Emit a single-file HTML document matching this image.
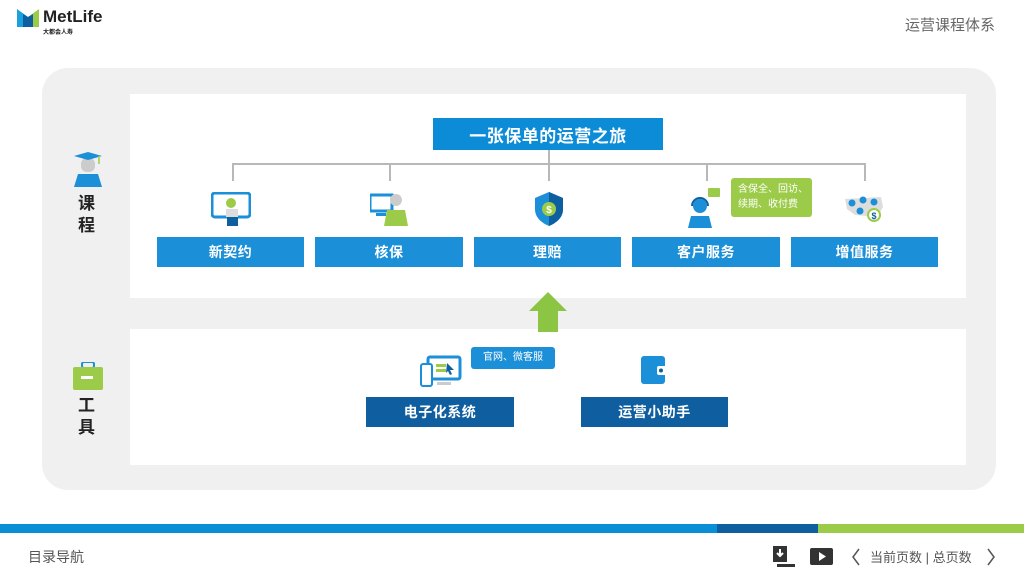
<!DOCTYPE html>
<html><head><meta charset="utf-8"><style>
*{margin:0;padding:0;box-sizing:border-box}
body{width:1024px;height:576px;position:relative;background:#fff;font-family:"Liberation Sans","Noto Sans CJK SC",sans-serif;overflow:hidden}
.a{position:absolute}
.b{position:absolute;background:#1b8fd8;color:#fff;font-weight:bold;font-size:14px;display:flex;align-items:center;justify-content:center;letter-spacing:0.5px}
.d{background:#0f5fa0}
.l{position:absolute;background:#b8b8b8}
</style></head><body>
<svg class="a" style="left:17px;top:9px" width="22" height="18"><polygon points="0,0 11,8 11,18 0,18" fill="#1aa0dc"/><polygon points="22,0 11,8 11,18 22,18" fill="#9ccb4a"/><polygon points="6,5 11,8 16,5 16,18 6,18" fill="#0e5fa0"/></svg>
<div class="a" style="left:43px;top:7px;font-size:17px;font-weight:bold;color:#222">MetLife</div>
<div class="a" style="left:43px;top:27px;font-size:6px;font-weight:bold;color:#222">大都会人寿</div>
<div class="a" style="left:905px;top:14px;font-size:15px;color:#666">运营课程体系</div>
<div class="a" style="left:42px;top:68px;width:954px;height:422px;background:#f0f0f0;border-radius:26px"></div>
<div class="a" style="left:130px;top:94px;width:836px;height:204px;background:#fff"></div>
<div class="a" style="left:130px;top:329px;width:836px;height:136px;background:#fff"></div>
<svg class="a" style="left:72px;top:152px" width="32" height="36"><rect x="9" y="6" width="14" height="14" rx="6" fill="#ccc"/><polygon points="2,4 16,0 30,4 16,8" fill="#1b8fd8"/><line x1="27" y1="4" x2="27" y2="12" stroke="#9ccb4a" stroke-width="1.5"/><polygon points="6,22 26,22 30,35 2,35" fill="#1b8fd8"/></svg>
<div class="a" style="left:78px;top:193px;font-size:17px;font-weight:bold;color:#222;line-height:22px;width:20px">课<br>程</div>
<svg class="a" style="left:72px;top:362px" width="32" height="28"><rect x="10" y="0" width="12" height="6" rx="2" fill="none" stroke="#1b8fd8" stroke-width="2"/><rect x="1" y="5" width="30" height="23" rx="2" fill="#9ccb4a"/><rect x="9" y="14" width="12" height="3" fill="#fff"/></svg>
<div class="a" style="left:78px;top:395px;font-size:17px;font-weight:bold;color:#222;line-height:22px;width:20px">工<br>具</div>
<div class="b" style="left:433px;top:118px;width:230px;height:32px;font-size:17px;background:#0c8cd6">一张保单的运营之旅</div>
<div class="l" style="left:548px;top:150px;width:2px;height:14px"></div>
<div class="l" style="left:232px;top:163px;width:634px;height:2px"></div>
<div class="l" style="left:232px;top:163px;width:2px;height:18px"></div>
<div class="l" style="left:389px;top:163px;width:2px;height:18px"></div>
<div class="l" style="left:548px;top:163px;width:2px;height:18px"></div>
<div class="l" style="left:706px;top:163px;width:2px;height:18px"></div>
<div class="l" style="left:864px;top:163px;width:2px;height:18px"></div>
<svg class="a" style="left:211px;top:192px" width="40" height="35"><rect x="1" y="1" width="38" height="24" rx="3" fill="#fff" stroke="#1b8fd8" stroke-width="3"/><circle cx="20" cy="11" r="5" fill="#9ccb4a"/><rect x="15" y="17" width="12" height="8" fill="#ddd"/><rect x="16" y="25" width="11" height="9" fill="#0e5fa0"/></svg>
<svg class="a" style="left:370px;top:192px" width="40" height="34"><rect x="0" y="3" width="22" height="16" fill="#fff" stroke="#1b8fd8" stroke-width="3"/><rect x="6" y="21" width="10" height="3" fill="#1b8fd8"/><circle cx="26" cy="8" r="6" fill="#ccc"/><path d="M14 34 L17 18 L35 18 L38 34Z" fill="#9ccb4a"/></svg>
<svg class="a" style="left:534px;top:192px" width="30" height="34"><path d="M15 0 L29 6 L29 17 C29 26 22 31 15 34 C8 31 1 26 1 17 L1 6Z" fill="#1b8fd8"/><path d="M15 0 L29 6 L29 17 C29 26 22 31 15 34Z" fill="#0e5fa0"/><circle cx="15" cy="17" r="7" fill="#9ccb4a"/><text x="15" y="21" font-size="10" fill="#fff" text-anchor="middle" font-weight="bold">$</text></svg>
<svg class="a" style="left:686px;top:186px" width="40" height="42"><rect x="22" y="2" width="12" height="9" rx="1" fill="#9ccb4a"/><circle cx="14" cy="20" r="7" fill="#1b8fd8"/><path d="M6 20 A8 8 0 0 1 22 20" fill="none" stroke="#0e5fa0" stroke-width="2"/><path d="M2 42 L5 30 L23 30 L26 42Z" fill="#1b8fd8"/></svg>
<div class="a" style="left:731px;top:178px;width:81px;height:39px;background:#9ccb4a;border-radius:3px;color:#fff;font-size:10px;line-height:15px;padding:4px 0 0 7px">含保全、回访、<br>续期、收付费</div>
<svg class="a" style="left:841px;top:193px" width="46" height="30"><path d="M4 6 L40 4 L42 14 L36 24 L14 22 L6 16Z" fill="#ddd"/><circle cx="11" cy="10" r="3.5" fill="#1b8fd8"/><circle cx="22" cy="7" r="3.5" fill="#1b8fd8"/><circle cx="33" cy="9" r="3.5" fill="#1b8fd8"/><circle cx="19" cy="18" r="3.5" fill="#1b8fd8"/><circle cx="33" cy="22" r="6" fill="#fff" stroke="#9ccb4a" stroke-width="2"/><text x="33" y="26" font-size="9" fill="#0e5fa0" text-anchor="middle" font-weight="bold">$</text></svg>
<div class="b" style="left:157px;top:237px;width:147px;height:30px">新契约</div>
<div class="b" style="left:315px;top:237px;width:148px;height:30px">核保</div>
<div class="b" style="left:474px;top:237px;width:147px;height:30px">理赔</div>
<div class="b" style="left:632px;top:237px;width:148px;height:30px">客户服务</div>
<div class="b" style="left:791px;top:237px;width:147px;height:30px">增值服务</div>
<svg class="a" style="left:528px;top:292px" width="40" height="40"><polygon points="20,0 39,19 30,19 30,40 10,40 10,19 1,19" fill="#8cc443"/></svg>
<svg class="a" style="left:420px;top:355px" width="42" height="32"><rect x="8" y="2" width="32" height="22" rx="2" fill="#fff" stroke="#1b8fd8" stroke-width="3"/><rect x="16" y="9" width="10" height="3" fill="#9ccb4a"/><rect x="16" y="14" width="10" height="3" fill="#9ccb4a"/><polygon points="27,8 34,15 30,15 32,19 30,20 28,16 26,18" fill="#0e5fa0"/><rect x="1" y="9" width="11" height="22" rx="2" fill="#fff" stroke="#1b8fd8" stroke-width="2"/><rect x="17" y="27" width="14" height="3" fill="#ccc"/></svg>
<div class="a" style="left:471px;top:347px;width:84px;height:22px;background:#1b8fd8;border-radius:3px;color:#fff;font-size:10px;line-height:22px;padding-left:12px">官网、微客服</div>
<svg class="a" style="left:641px;top:356px" width="28" height="28"><rect x="0" y="0" width="24" height="28" rx="3" fill="#1b8fd8"/><rect x="16" y="10" width="12" height="9" rx="2" fill="#fff"/><circle cx="20" cy="14.5" r="2" fill="#0e5fa0"/></svg>
<div class="b d" style="left:366px;top:397px;width:148px;height:30px">电子化系统</div>
<div class="b d" style="left:581px;top:397px;width:147px;height:30px">运营小助手</div>
<div class="a" style="left:0;top:524px;width:717px;height:9px;background:#0a8fd6"></div>
<div class="a" style="left:717px;top:524px;width:101px;height:9px;background:#0e5fa0"></div>
<div class="a" style="left:818px;top:524px;width:206px;height:9px;background:#9ccb4a"></div>
<div class="a" style="left:28px;top:547px;font-size:14px;color:#555">目录导航</div>
<svg class="a" style="left:773px;top:546px" width="24" height="22"><rect x="0" y="0" width="14" height="16" fill="#333"/><path d="M7 3 L7 10 M4 7 L7 10 L10 7" stroke="#fff" stroke-width="2" fill="none"/><rect x="4" y="18" width="18" height="3" fill="#333"/></svg>
<svg class="a" style="left:810px;top:548px" width="24" height="18"><rect x="0" y="0" width="23" height="17" rx="2" fill="#333"/><polygon points="9,4 16,8.5 9,13" fill="#fff"/></svg>
<svg class="a" style="left:851px;top:548px" width="10" height="18"><path d="M8 1 L2 9 L8 17" stroke="#555" stroke-width="1.5" fill="none"/></svg>
<div class="a" style="left:870px;top:547px;font-size:13px;color:#555">当前页数 | 总页数</div>
<svg class="a" style="left:986px;top:548px" width="10" height="18"><path d="M2 1 L8 9 L2 17" stroke="#555" stroke-width="1.5" fill="none"/></svg>
</body></html>
